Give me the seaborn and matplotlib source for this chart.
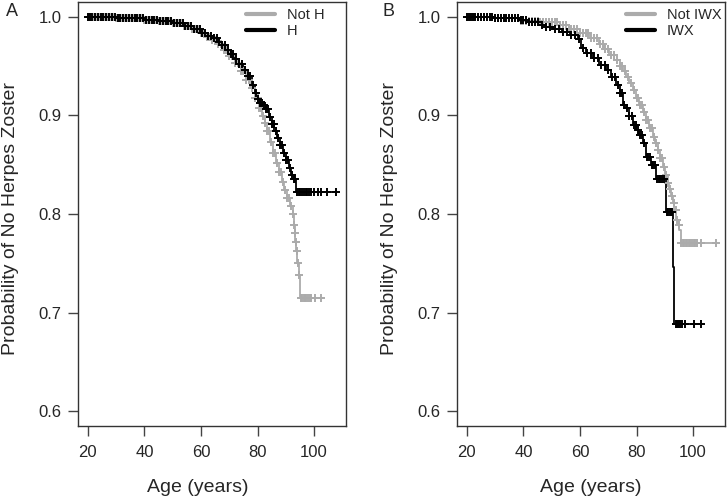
import numpy as np
import pandas as pd
import matplotlib
matplotlib.use("Agg")
import matplotlib.pyplot as plt
from matplotlib.lines import Line2D
import seaborn as sns

# ---------------- data ----------------
# Panel A: Not H (grey) / H (black) step curves
a_not_age = [20, 30, 40, 45, 50, 54, 57, 60, 62, 64, 66, 68, 70, 72, 74, 76, 77.5, 79, 80.5,
             81.5, 82.5, 83.5, 84.5, 85.5, 86.5, 87.5, 88.5, 89.5, 90.5, 91.5, 92.4, 92.8, 93.1,
             93.4, 93.7, 94.1, 94.6, 95.1, 102.8]
a_not_surv = [1.0, 0.999, 0.997, 0.996, 0.994, 0.991, 0.988, 0.984, 0.980, 0.976, 0.972, 0.966,
              0.960, 0.953, 0.945, 0.936, 0.928, 0.918, 0.907, 0.899, 0.892, 0.884, 0.873,
              0.862, 0.852, 0.843, 0.832, 0.824, 0.816, 0.808, 0.800, 0.789, 0.781, 0.772,
              0.762, 0.750, 0.738, 0.715, 0.715]
a_h_age = [20, 30, 40, 45, 50, 54, 57, 60, 62, 64, 66, 67.5, 69, 70.5, 72, 73.5, 75, 76.5, 78,
           79, 80, 81, 82, 83, 84, 85, 86, 87, 88, 89, 90, 91, 92, 92.8, 93.6, 107.8]
a_h_surv = [1.0, 0.999, 0.997, 0.996, 0.994, 0.991, 0.988, 0.984, 0.981, 0.978, 0.974, 0.971,
            0.966, 0.962, 0.957, 0.952, 0.946, 0.940, 0.931, 0.923, 0.917, 0.913, 0.911,
            0.906, 0.898, 0.891, 0.884, 0.877, 0.870, 0.862, 0.855, 0.847, 0.840, 0.836,
            0.822, 0.822]
# censoring ages
a_not_cens = [20.3, 21.2, 22.1, 23, 24, 25, 26, 27, 28, 29, 30, 31, 32, 33, 34, 35, 36, 37, 38,
              39, 40, 41, 42, 43, 44, 45, 46, 47, 48, 49, 50, 51, 52, 53, 54, 55, 56, 57, 58,
              59, 60, 61, 62, 63, 64, 65, 66, 67, 68, 69, 70, 71, 72, 73, 74, 75, 76, 77, 78,
              79, 80, 80.7, 81.4, 82.1, 82.8, 83.5, 84.2, 84.9, 85.6, 86.3, 87, 87.7, 88.4,
              89.1, 89.8, 90.5, 91.2, 91.9, 92.6, 93, 93.3, 93.6, 93.9, 94.3, 94.8, 95.4, 95.8,
              96.3, 96.8, 97.3, 98, 98.5, 99, 100.5, 102.6]
a_h_cens = [20, 20.8, 21.6, 22.5, 23.5, 24.5, 25.5, 26.5, 27.5, 28.5, 29.5, 30.5, 31.5, 32.5,
            33.5, 34.5, 35.5, 36.5, 37.5, 38.5, 39.5, 40.5, 41.5, 42.5, 43.5, 44.5, 45.5, 46.5,
            47.5, 48.5, 49.5, 50.5, 51.5, 52.5, 53.5, 54.5, 55.5, 56.5, 57.5, 58.5, 59.5, 60.5,
            61.5, 62.5, 63.5, 64.5, 65.5, 66.5, 67.5, 68.5, 69.5, 70.5, 71.5, 72.5, 73.5, 74.5,
            75.5, 76.5, 77.5, 78.5, 79.5, 80.3, 81, 81.7, 82.4, 83.1, 83.8, 84.5, 85.2, 85.9,
            86.6, 87.3, 88, 88.7, 89.4, 90.1, 90.8, 91.5, 92.2, 92.8, 93.3, 94, 94.6, 95.2,
            95.8, 96.4, 97, 97.6, 98.3, 99, 100, 101.5, 102.5, 104.7, 107.6]

# Panel B: Not IWX (grey) / IWX (black)
b_not_age = [20, 30, 38.7, 45.7, 52.8, 56, 59.9, 63.4, 66.9, 68.6, 70.4, 72.2, 74, 75.1, 76.3,
             77.5, 78.7, 79.8, 81, 82.2, 83.4, 84.5, 85.7, 86.6, 87.5, 88.4, 89.2, 90.1, 91,
             91.6, 92.2, 92.8, 93.4, 94, 94.6, 95.1, 95.7, 108.2]
b_not_surv = [1.0, 0.999, 0.996, 0.995, 0.992, 0.988, 0.984, 0.978, 0.972, 0.967, 0.961, 0.956,
              0.950, 0.945, 0.939, 0.933, 0.926, 0.918, 0.911, 0.903, 0.895, 0.887, 0.878,
              0.872, 0.865, 0.857, 0.848, 0.840, 0.831, 0.825, 0.818, 0.811, 0.804, 0.794,
              0.789, 0.784, 0.771, 0.771]
b_iwx_age = [20, 30, 38.7, 42, 45.7, 48, 50.4, 53.5, 56.3, 59.3, 60.5, 62.2, 64.6, 66.9, 69.3,
             71, 72.8, 74, 75.1, 76.3, 77.5, 78.7, 79.9, 81, 82.2, 83.4, 85.2, 86.9, 90.4,
             93.0, 93.4, 103.1]
b_iwx_surv = [1.0, 0.999, 0.997, 0.995, 0.992, 0.990, 0.9875, 0.985, 0.982, 0.977, 0.968,
              0.963, 0.958, 0.951, 0.946, 0.939, 0.931, 0.923, 0.911, 0.907, 0.899, 0.890,
              0.885, 0.880, 0.872, 0.858, 0.850, 0.836, 0.802, 0.746, 0.688, 0.688]
b_not_cens = [20.2, 21.1, 22, 23, 24, 25, 26, 27, 28, 29, 30, 31, 32, 33, 34, 35, 36, 37, 38,
              39, 40, 41, 42, 43, 44, 45, 46, 47, 48, 49, 50, 51, 52, 53, 54, 55, 56, 57, 58,
              59, 60, 61, 62, 63, 64, 65, 66, 67, 68, 69, 70, 71, 72, 73, 74, 75, 76, 77, 78,
              79, 80, 80.7, 81.4, 82.1, 82.8, 83.5, 84.2, 84.9, 85.6, 86.3, 87, 87.7, 88.4,
              89.1, 89.8, 90.5, 91.2, 91.9, 92.6, 93.2, 93.8, 94.3, 94.9, 95.9, 96.4, 96.9,
              97.4, 97.9, 98.4, 99, 99.6, 100.2, 100.8, 101.5, 102.8, 108]
b_iwx_cens = [20, 20.6, 21.3, 22, 23, 24, 25, 26, 27, 28, 29, 30, 31, 32, 33, 34, 35, 36, 37,
              38, 39, 40, 41, 42, 43, 44, 45.2, 46.5, 48, 49.5, 51, 52.5, 54, 55.5, 57, 58.3,
              59.5, 61, 62.5, 63.8, 65, 66.3, 67.5, 68.8, 70, 71.3, 72.5, 73.5, 74.3, 75, 75.6,
              76.5, 77.5, 78.3, 79, 79.7, 80.5, 81.3, 82, 82.8, 83.6, 84.2, 84.8, 85.4, 86,
              86.6, 87.2, 87.8, 88.4, 89, 89.6, 90.8, 91.3, 91.8, 92.3, 92.7, 93.8, 94.2, 94.6,
              95, 95.5, 96.2, 97, 100.4, 102.8]

GREY = "#ababab"
BLACK = "#000000"


def surv_at(ages, surv, t):
    idx = np.searchsorted(np.asarray(ages), np.asarray(t), side="right") - 1
    return np.asarray(surv)[idx]


def panel(ax, curves, legend_anchor):
    rows = []
    crow = []
    for name, ages, surv, cens in curves:
        for a, s in zip(ages, surv):
            rows.append({"age": a, "surv": s, "group": name})
        for c, s in zip(cens, surv_at(ages, surv, cens)):
            crow.append({"age": c, "surv": s, "group": name})
    df = pd.DataFrame(rows)
    cdf = pd.DataFrame(crow)
    names = [c[0] for c in curves]
    pal = {names[0]: GREY, names[1]: BLACK}
    for name in names:
        sub = df[df.group == name]
        sns.lineplot(data=sub, x="age", y="surv", color=pal[name], drawstyle="steps-post",
                     estimator=None, sort=False, linewidth=1.3, ax=ax, legend=False)
        csub = cdf[cdf.group == name]
        sns.scatterplot(data=csub, x="age", y="surv", color=pal[name], marker="+", s=34,
                        linewidth=1.4, ax=ax, legend=False, zorder=3)
    handles = [Line2D([], [], color=GREY, lw=3), Line2D([], [], color=BLACK, lw=3)]
    ax.legend(handles, names, loc="upper left", frameon=False, fontsize=10.5,
              handlelength=2.0, handletextpad=0.8, labelspacing=0.12,
              borderaxespad=0, borderpad=0, bbox_to_anchor=legend_anchor)
    ax.set_xlim(16.5, 111.3)
    ax.set_ylim(0.585, 1.015)
    ax.set_xticks([20, 40, 60, 80, 100])
    ax.set_yticks([0.6, 0.7, 0.8, 0.9, 1.0])
    ax.set_xticklabels(["20", "40", "60", "80", "100"])
    ax.set_yticklabels(["0.6", "0.7", "0.8", "0.9", "1.0"])
    ax.set_xlabel("Age (years)", fontsize=14)
    ax.set_ylabel("Probability of No Herpes Zoster", fontsize=14)
    ax.tick_params(axis="both", direction="out", length=7, width=1, color="#444444",
                   labelsize=12)
    ax.tick_params(axis="x", pad=7)
    ax.tick_params(axis="y", pad=5)
    for sp in ax.spines.values():
        sp.set_visible(True)
        sp.set_color("#333333")
        sp.set_linewidth(1.0)


sns.set_style("ticks")
plt.rcParams["font.family"] = ["Liberation Sans", "DejaVu Sans"]

fig = plt.figure(figsize=(7.27, 4.99), dpi=100)
W, H = 727, 499
axA = fig.add_axes([78 / W, (H - 426) / H, 268 / W, 424 / H])
axB = fig.add_axes([457 / W, (H - 426) / H, 268 / W, 424 / H])

panel(axA, [("Not H", a_not_age, a_not_surv, a_not_cens),
            ("H", a_h_age, a_h_surv, a_h_cens)],
      ((246 - 78) / 268, (426 - 8) / 424))
panel(axB, [("Not IWX", b_not_age, b_not_surv, b_not_cens),
            ("IWX", b_iwx_age, b_iwx_surv, b_iwx_cens)],
      ((626 - 457) / 268, (426 - 8) / 424))

axA.xaxis.set_label_coords((197.5 - 78) / 268, -0.125)
axB.xaxis.set_label_coords(0.5, -0.125)
axA.yaxis.set_label_coords(-0.22, 0.49)
axB.yaxis.set_label_coords(-0.22, 0.49)

fig.text(12 / W, 1 - 12 / H, "A", ha="center", va="center", fontsize=13)
fig.text(388 / W, 1 - 12 / H, "B", ha="center", va="center", fontsize=13)

fig.savefig("out.png", dpi=100)
